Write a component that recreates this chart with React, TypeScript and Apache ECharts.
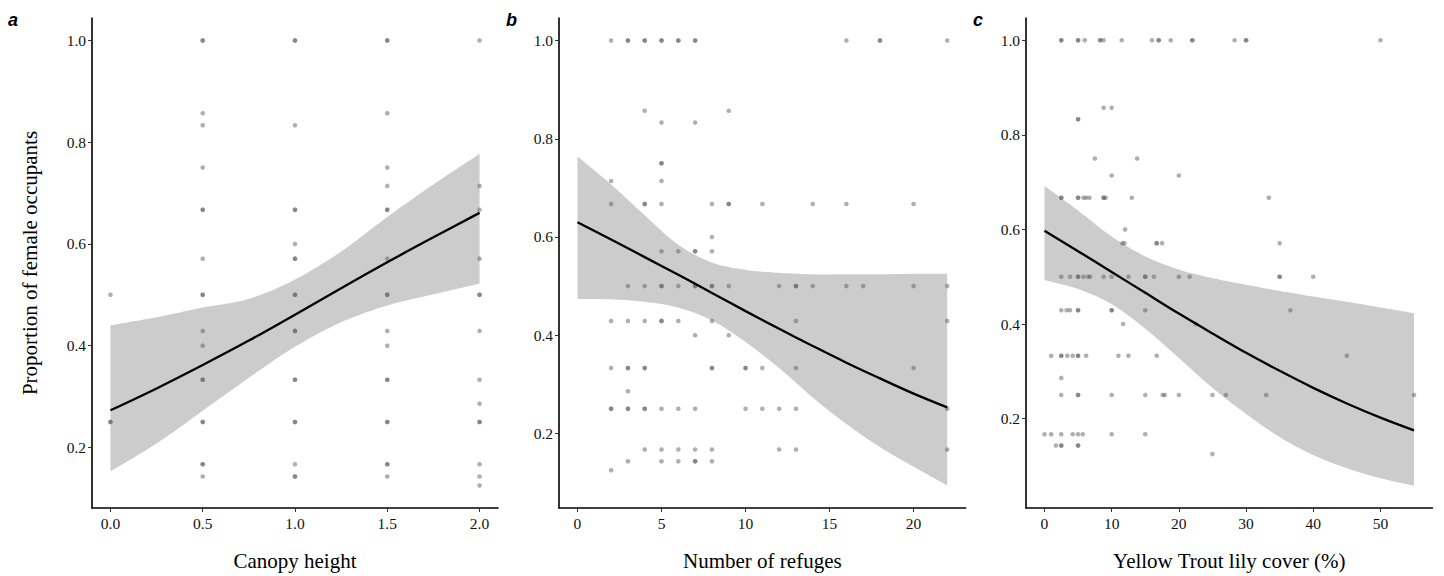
import { useEffect, useRef } from "react";
import * as echarts from "echarts";

// ---------- tick labels ----------
const yTicks = [0.2, 0.4, 0.6, 0.8, 1.0];
const canopyTicks = [0, 0.5, 1, 1.5, 2];
const refugeTicks = [0, 5, 10, 15, 20];
const lilyTicks = [0, 10, 20, 30, 40, 50];

// ---------- panel a: canopy height ----------
const canopyPoints: [number, number][] = [
  [0, 0.5], [0, 0.25], [0, 0.25],
  [0.5, 1.0], [0.5, 1.0], [0.5, 0.857], [0.5, 0.833], [0.5, 0.75], [0.5, 0.667], [0.5, 0.667],
  [0.5, 0.571], [0.5, 0.5], [0.5, 0.5], [0.5, 0.429], [0.5, 0.4], [0.5, 0.333], [0.5, 0.333],
  [0.5, 0.25], [0.5, 0.25], [0.5, 0.167], [0.5, 0.167], [0.5, 0.143],
  [1, 1.0], [1, 1.0], [1, 0.833], [1, 0.667], [1, 0.667], [1, 0.6], [1, 0.571], [1, 0.571],
  [1, 0.5], [1, 0.5], [1, 0.429], [1, 0.429], [1, 0.333], [1, 0.333], [1, 0.25], [1, 0.25],
  [1, 0.167], [1, 0.143], [1, 0.143],
  [1.5, 1.0], [1.5, 1.0], [1.5, 0.857], [1.5, 0.75], [1.5, 0.714], [1.5, 0.667], [1.5, 0.667],
  [1.5, 0.571], [1.5, 0.5], [1.5, 0.5], [1.5, 0.429], [1.5, 0.4], [1.5, 0.333], [1.5, 0.333],
  [1.5, 0.25], [1.5, 0.25], [1.5, 0.167], [1.5, 0.167], [1.5, 0.143],
  [2, 1.0], [2, 0.714], [2, 0.667], [2, 0.571], [2, 0.5], [2, 0.5], [2, 0.429], [2, 0.333],
  [2, 0.286], [2, 0.25], [2, 0.25], [2, 0.167], [2, 0.143], [2, 0.125],
];
const canopyFitX = [0, 0.25, 0.5, 0.75, 1.0, 1.25, 1.5, 1.75, 2.0];
const canopyFit = [0.273, 0.316, 0.362, 0.41, 0.461, 0.513, 0.564, 0.613, 0.661];
const canopyLower = [0.153, 0.208, 0.272, 0.337, 0.398, 0.446, 0.479, 0.501, 0.522];
const canopyUpper = [0.44, 0.456, 0.475, 0.492, 0.53, 0.585, 0.653, 0.717, 0.777];

// ---------- panel b: number of refuges ----------
const refugePoints: [number, number][] = [
  [2, 1.0], [3, 1.0], [3, 1.0], [4, 1.0], [4, 1.0], [5, 1.0], [5, 1.0], [6, 1.0], [6, 1.0],
  [7, 1.0], [7, 1.0], [16, 1.0], [18, 1.0], [18, 1.0], [22, 1.0],
  [4, 0.857], [9, 0.857], [5, 0.833], [7, 0.833], [5, 0.75], [5, 0.75], [2, 0.714], [5, 0.714],
  [2, 0.667], [4, 0.667], [4, 0.667], [5, 0.667], [8, 0.667], [9, 0.667], [9, 0.667],
  [11, 0.667], [14, 0.667], [16, 0.667], [20, 0.667],
  [8, 0.6], [5, 0.571], [6, 0.571], [7, 0.571], [7, 0.571], [8, 0.571],
  [3, 0.5], [4, 0.5], [5, 0.5], [5, 0.5], [6, 0.5], [7, 0.5], [7, 0.5], [8, 0.5], [8, 0.5],
  [9, 0.5], [12, 0.5], [13, 0.5], [13, 0.5], [14, 0.5], [16, 0.5], [17, 0.5], [20, 0.5], [22, 0.5],
  [2, 0.429], [3, 0.429], [4, 0.429], [5, 0.429], [5, 0.429], [6, 0.429], [8, 0.429],
  [13, 0.429], [22, 0.429], [7, 0.4], [9, 0.4],
  [2, 0.333], [3, 0.333], [3, 0.333], [4, 0.333], [4, 0.333], [8, 0.333], [8, 0.333],
  [10, 0.333], [10, 0.333], [11, 0.333], [13, 0.333], [20, 0.333], [3, 0.286],
  [2, 0.25], [2, 0.25], [3, 0.25], [3, 0.25], [4, 0.25], [4, 0.25], [5, 0.25], [6, 0.25],
  [7, 0.25], [10, 0.25], [11, 0.25], [12, 0.25], [13, 0.25], [22, 0.25],
  [4, 0.167], [5, 0.167], [6, 0.167], [7, 0.167], [8, 0.167], [12, 0.167], [13, 0.167], [22, 0.167],
  [3, 0.143], [5, 0.143], [6, 0.143], [7, 0.143], [7, 0.143], [8, 0.143], [2, 0.125],
];
const refugeFitX = [0, 2, 4, 6, 8, 10, 12, 14, 16, 18, 20, 22];
const refugeFit = [0.63, 0.595, 0.559, 0.523, 0.486, 0.449, 0.413, 0.378, 0.344, 0.312, 0.281, 0.253];
const refugeLower = [0.474, 0.473, 0.468, 0.456, 0.43, 0.386, 0.333, 0.273, 0.219, 0.172, 0.132, 0.094];
const refugeUpper = [0.764, 0.707, 0.644, 0.584, 0.548, 0.533, 0.527, 0.524, 0.524, 0.524, 0.525, 0.525];

// ---------- panel c: yellow trout lily cover ----------
const lilyPoints: [number, number][] = [
  [2.5, 1.0], [2.5, 1.0], [5, 1.0], [5, 1.0], [6, 1.0], [8.3, 1.0], [8.3, 1.0], [8.8, 1.0],
  [11.5, 1.0], [16, 1.0], [17, 1.0], [17, 1.0], [18.8, 1.0], [22, 1.0], [22, 1.0], [28.3, 1.0],
  [30, 1.0], [30, 1.0], [50, 1.0],
  [8.8, 0.857], [10, 0.857], [5, 0.833], [5, 0.833], [7.5, 0.75], [13.8, 0.75], [10, 0.714], [20, 0.714],
  [2.5, 0.667], [2.5, 0.667], [5, 0.667], [5, 0.667], [5.8, 0.667], [6.2, 0.667], [6.7, 0.667],
  [8.8, 0.667], [8.8, 0.667], [9.1, 0.667], [13, 0.667], [33.4, 0.667],
  [12, 0.6], [11.6, 0.571], [11.9, 0.571], [16.7, 0.571], [16.7, 0.571], [17.5, 0.571], [35, 0.571],
  [2.5, 0.5], [3.8, 0.5], [5, 0.5], [5, 0.5], [5.8, 0.5], [6.5, 0.5], [6.8, 0.5], [8.8, 0.5],
  [10, 0.5], [12.5, 0.5], [15, 0.5], [15, 0.5], [16.3, 0.5], [20, 0.5], [21.6, 0.5],
  [35, 0.5], [35, 0.5], [40, 0.5],
  [2.5, 0.429], [3.3, 0.429], [3.8, 0.429], [5, 0.429], [5, 0.429], [10, 0.429], [10, 0.429],
  [15, 0.429], [36.6, 0.429], [11.7, 0.4], [22.5, 0.4],
  [1, 0.333], [2.5, 0.333], [2.5, 0.333], [3.4, 0.333], [4.2, 0.333], [5, 0.333], [5, 0.333],
  [6.2, 0.333], [11, 0.333], [12.5, 0.333], [16.7, 0.333], [45, 0.333], [2.5, 0.286],
  [2.5, 0.25], [5, 0.25], [5, 0.25], [10, 0.25], [15, 0.25], [17.6, 0.25], [17.9, 0.25],
  [20, 0.25], [25, 0.25], [27, 0.25], [33, 0.25], [55, 0.25],
  [0, 0.167], [1, 0.167], [2.5, 0.167], [4.2, 0.167], [5, 0.167], [5.7, 0.167], [10, 0.167], [15, 0.167],
  [1.7, 0.143], [2.5, 0.143], [2.5, 0.143], [5, 0.143], [5, 0.143], [25, 0.125],
];
const lilyFitX = [0, 5, 10, 15, 20, 25, 30, 35, 40, 45, 50, 55];
const lilyFit = [0.597, 0.554, 0.51, 0.466, 0.422, 0.38, 0.339, 0.301, 0.265, 0.232, 0.202, 0.175];
const lilyLower = [0.493, 0.474, 0.442, 0.39, 0.328, 0.265, 0.21, 0.161, 0.123, 0.095, 0.074, 0.058];
const lilyUpper = [0.692, 0.64, 0.585, 0.543, 0.515, 0.497, 0.483, 0.47, 0.458, 0.447, 0.435, 0.423];

const SERIF = "Liberation Serif";

// Smooth a list of pixel points (already placed by the axes) with a cubic Hermite curve.
function smoothPixels(pts: number[][], steps = 12): number[][] {
  const n = pts.length;
  const tan = pts.map((_, k) => {
    const a = pts[Math.max(0, k - 1)];
    const b = pts[Math.min(n - 1, k + 1)];
    const s = k === 0 || k === n - 1 ? 1 : 0.5;
    return [(b[0] - a[0]) * s, (b[1] - a[1]) * s];
  });
  const out: number[][] = [];
  for (let k = 0; k < n - 1; k++) {
    const p0 = pts[k], p1 = pts[k + 1], m0 = tan[k], m1 = tan[k + 1];
    for (let s = 0; s < steps; s++) {
      const t = s / steps;
      const t2 = t * t, t3 = t2 * t;
      const h00 = 2 * t3 - 3 * t2 + 1;
      const h10 = t3 - 2 * t2 + t;
      const h01 = -2 * t3 + 3 * t2;
      const h11 = t3 - t2;
      out.push([
        h00 * p0[0] + h10 * m0[0] + h01 * p1[0] + h11 * m1[0],
        h00 * p0[1] + h10 * m0[1] + h01 * p1[1] + h11 * m1[1],
      ]);
    }
  }
  out.push(pts[n - 1]);
  return out;
}

function buildPanel(
  i: number,
  points: [number, number][],
  fitX: number[],
  fit: number[],
  lower: number[],
  upper: number[]
) {
  return [
    // confidence band: one polygon, corners placed through the axes' scales
    {
      type: "custom",
      xAxisIndex: i,
      yAxisIndex: i,
      data: fitX.map((x, k) => [x, lower[k], upper[k]]),
      encode: { x: 0, y: [1, 2] },
      silent: true,
      z: 1,
      renderItem: (params: any, api: any) => {
        if (params.dataIndex !== 0) return null;
        const top = smoothPixels(fitX.map((x, k) => api.coord([x, upper[k]])));
        const bottom = smoothPixels(fitX.map((x, k) => api.coord([x, lower[k]]))).reverse();
        return {
          type: "polygon",
          shape: { points: top.concat(bottom) },
          style: { fill: "#cccccc", stroke: "none" },
        };
      },
    },
    {
      type: "scatter",
      xAxisIndex: i,
      yAxisIndex: i,
      data: points,
      symbolSize: 4.6,
      itemStyle: { color: "rgba(90,90,90,0.6)" },
      silent: true,
      z: 3,
    },
    {
      type: "line",
      xAxisIndex: i,
      yAxisIndex: i,
      data: fitX.map((x, k) => [x, fit[k]]),
      symbol: "none",
      smooth: 0.35,
      lineStyle: { color: "#000", width: 2.3 },
      silent: true,
      z: 4,
    },
  ];
}

const labelStyle = {
  fontFamily: SERIF,
  fontSize: 15.5,
  color: "#111",
};

function xAxisDef(
  i: number,
  min: number,
  max: number,
  ticks: number[],
  step: number,
  name: string,
  digits: number
) {
  return {
    type: "value",
    gridIndex: i,
    min,
    max,
    minInterval: step,
    maxInterval: step,
    z: 10,
    name,
    nameLocation: "middle",
    nameGap: 42,
    nameTextStyle: { fontFamily: SERIF, fontSize: 21, color: "#000" },
    axisLine: { show: true, onZero: false, lineStyle: { color: "#000", width: 1.6 } },
    axisTick: { show: true, length: 4, customValues: ticks, lineStyle: { color: "#333", width: 1 } },
    axisLabel: {
      show: true,
      showMinLabel: false,
      showMaxLabel: false,
      margin: 7,
      ...labelStyle,
      formatter: (v: number) => v.toFixed(digits),
    },
    splitLine: { show: false },
  };
}

function yAxisDef(i: number, min: number, max: number, name: string) {
  return {
    type: "value",
    gridIndex: i,
    min,
    max,
    minInterval: 0.2,
    maxInterval: 0.2,
    z: 10,
    name,
    nameLocation: "middle",
    nameGap: 52,
    nameTextStyle: { fontFamily: SERIF, fontSize: 21, color: "#000" },
    axisLine: { show: true, onZero: false, lineStyle: { color: "#000", width: 1.6 } },
    axisTick: { show: true, length: 4, customValues: yTicks, lineStyle: { color: "#333", width: 1 } },
    axisLabel: {
      show: true,
      showMinLabel: false,
      showMaxLabel: false,
      margin: 6,
      ...labelStyle,
      formatter: (v: number) => v.toFixed(1),
    },
    splitLine: { show: false },
  };
}

export default function App() {
  const ref = useRef<HTMLDivElement>(null);

  useEffect(() => {
    if (!ref.current) return;
    const chart = echarts.init(ref.current, undefined, { renderer: "svg" });
    const letterFont = 'italic bold 18px "Liberation Sans", Arial, sans-serif';
    chart.setOption({
      animation: false,
      backgroundColor: "#fff",
      textStyle: { fontFamily: SERIF },
      grid: [
        { left: 92, top: 18, width: 406, height: 497.7 },
        { left: 559, top: 18, width: 406.7, height: 497.7 },
        { left: 1026, top: 18, width: 406.5, height: 497.7 },
      ],
      xAxis: [
        xAxisDef(0, -0.1, 2.1, canopyTicks, 0.5, "Canopy height", 1),
        xAxisDef(1, -1.1, 23.1, refugeTicks, 5, "Number of refuges", 0),
        xAxisDef(2, -2.75, 57.75, lilyTicks, 10, "Yellow Trout lily cover (%)", 0),
      ],
      yAxis: [
        yAxisDef(0, 0.081, 1.044, "Proportion of female occupants"),
        yAxisDef(1, 0.048, 1.046, ""),
        yAxisDef(2, 0.011, 1.047, ""),
      ],
      graphic: [
        { type: "text", left: 8, top: 11, style: { text: "a", font: letterFont, fill: "#000" } },
        { type: "text", left: 506, top: 11, style: { text: "b", font: letterFont, fill: "#000" } },
        { type: "text", left: 973, top: 11, style: { text: "c", font: letterFont, fill: "#000" } },
      ],
      series: [
        ...buildPanel(0, canopyPoints, canopyFitX, canopyFit, canopyLower, canopyUpper),
        ...buildPanel(1, refugePoints, refugeFitX, refugeFit, refugeLower, refugeUpper),
        ...buildPanel(2, lilyPoints, lilyFitX, lilyFit, lilyLower, lilyUpper),
      ],
    });
    return () => chart.dispose();
  }, []);

  return (
    <div
      ref={ref}
      style={{ position: "fixed", left: 0, top: 0, width: 1444, height: 576, background: "#fff" }}
    />
  );
}
